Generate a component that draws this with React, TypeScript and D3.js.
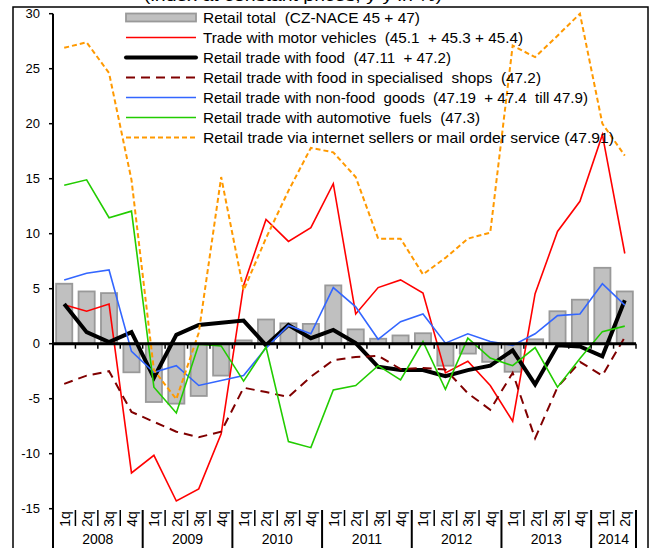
import React from "react";
import * as d3 from "d3";

const years = ["2008", "2009", "2010", "2011", "2012", "2013", "2014"];
const quarters = ["1q","2q","3q","4q","1q","2q","3q","4q","1q","2q","3q","4q","1q","2q","3q","4q","1q","2q","3q","4q","1q","2q","3q","4q","1q","2q"];
const yTicks = [30, 25, 20, 15, 10, 5, 0, -5, -10, -15];

const retailTotal = [5.45, 4.75, 4.6, -2.6, -5.3, -5.45, -4.75, -2.9, 0.3, 2.2, 1.85, 1.8, 5.3, 1.3, 0.45, 0.75, 0.95, -2.0, -0.9, -1.65, -2.55, 0.4, 2.95, 4.0, 6.9, 4.75];
const motorVehicles = [3.55, 2.95, 3.6, -11.75, -10.15, -14.3, -13.2, -8.2, 5.3, 11.3, 9.3, 10.55, 14.55, 2.7, 5.1, 5.8, 4.6, -2.65, -1.6, -3.8, -7.05, 4.55, 10.2, 12.95, 19.0, 8.2];
const food = [3.6, 1.05, 0.15, 1.05, -3.1, 0.8, 1.7, 1.9, 2.1, -0.15, 1.7, 0.5, 1.25, 0.05, -2.1, -2.4, -2.4, -2.95, -2.4, -2.0, -0.6, -3.7, -0.15, -0.25, -1.15, 3.95];
const foodSpecialised = [-3.65, -2.9, -2.5, -6.2, -7.1, -8.0, -8.5, -8.0, -4.0, -4.4, -4.85, -3.0, -1.5, -1.2, -1.1, -2.3, -2.2, -2.35, -4.5, -6.0, -2.65, -8.6, -3.95, -1.65, -2.9, 0.6];
const nonFood = [5.8, 6.4, 6.7, -0.7, -2.6, -2.0, -3.8, -3.35, -2.9, -0.4, 1.65, 0.9, 5.1, 3.35, 0.4, 2.0, 2.7, 0.05, 0.9, 0.2, -0.15, 0.9, 2.55, 2.7, 5.45, 3.5];
const fuels = [14.4, 14.9, 11.45, 12.05, -3.95, -6.3, -0.05, -0.2, -3.4, -0.3, -8.9, -9.45, -4.2, -3.8, -2.0, -3.3, 0.2, -4.15, 0.5, -1.3, -2.0, -0.35, -3.95, -1.35, 1.1, 1.6];
const internet = [26.9, 27.4, 24.6, 14.9, -2.4, -5.05, 1.0, 15.15, 4.85, 9.6, 13.9, 17.8, 17.4, 15.15, 9.55, 9.55, 6.3, 7.8, 9.55, 10.1, 27.1, 26.05, 28.0, 30.0, 20.0, 17.1];

const lineSeries = [
  { name: "Trade with motor vehicles  (45.1  + 45.3 + 45.4)", values: motorVehicles, color: "#FF0000", width: 1.6, dash: "" },
  { name: "Retail trade with food  (47.11  + 47.2)", values: food, color: "#000000", width: 4, dash: "" },
  { name: "Retail trade with food in specialised  shops  (47.2)", values: foodSpecialised, color: "#800000", width: 2, dash: "9,6" },
  { name: "Retail trade with non-food  goods  (47.19  + 47.4  till 47.9)", values: nonFood, color: "#3366FF", width: 1.6, dash: "" },
  { name: "Retail trade with automotive  fuels  (47.3)", values: fuels, color: "#22CC00", width: 1.6, dash: "" },
  { name: "Retail trade via internet sellers or mail order service (47.91)", values: internet, color: "#FF9900", width: 2, dash: "5,3" },
];
const barName = "Retail total  (CZ-NACE 45 + 47)";

export default function App() {
  const W = 653, H = 548;
  const x0 = 53, x1 = 636;
  const x = d3.scaleBand<number>().domain(d3.range(quarters.length)).range([x0, x1]).padding(0);
  const bw = x.bandwidth();
  const y = d3.scaleLinear().domain([-15, 30]).range([508.7, 13.7]);
  const cx = (i: number) => (x(i) as number) + bw / 2;
  const line = d3.line<number>().x((_, i) => cx(i)).y((v) => y(v));
  const font = "'Liberation Sans', Arial, sans-serif";
  const barW = bw * 0.72;
  const boundaries = d3.range(quarters.length + 1);
  const legendRows = [{ name: barName, bar: true }, ...lineSeries.map((s) => ({ name: s.name, bar: false, s }))];
  const legendTextWidths = [217, 320, 248, 338, 385, 277, 411];

  return (
    <svg width={W} height={H} style={{ position: "absolute", left: 0, top: 0, background: "#fff" }} fontFamily={font}>
      <rect x={0} y={0} width={W} height={H} fill="#fff" />
      <text x={144} y={0.5} fontSize={15} textLength={298} lengthAdjust="spacingAndGlyphs" fill="#000">(index at constant prices, y-y in %)</text>
      <rect x={13} y={7} width={635} height={560} fill="none" stroke="#000" strokeWidth={1.5} />
      {/* bars */}
      {retailTotal.map((v, i) => (
        <rect key={i} x={cx(i) - barW / 2} y={Math.min(y(v), y(0))} width={barW} height={Math.abs(y(v) - y(0))}
          fill="#C0C0C0" stroke="#999999" strokeWidth={1.8} />
      ))}
      {/* y axis */}
      <line x1={x0} x2={x0} y1={y(30)} y2={H} stroke="#000" strokeWidth={2} />
      {yTicks.map((t) => (
        <g key={t}>
          <line x1={x0 - 4} x2={x0} y1={y(t)} y2={y(t)} stroke="#000" strokeWidth={1.5} />
          <text x={40} y={y(t)} dy="0.35em" textAnchor="end" fontSize={13}>{t}</text>
        </g>
      ))}
      {/* lines */}
      {lineSeries.map((s) => (
        <path key={s.name} d={line(s.values) || ""} fill="none" stroke={s.color} strokeWidth={s.width}
          strokeDasharray={s.dash || undefined} strokeLinejoin="miter" />
      ))}
      {/* zero axis */}
      <line x1={x0} x2={x1} y1={y(0)} y2={y(0)} stroke="#000" strokeWidth={3} />
      {boundaries.map((k) => {
        const bx = k < quarters.length ? (x(k) as number) : x1;
        return <line key={"zt" + k} x1={bx} x2={bx} y1={y(0)} y2={y(0) + 5} stroke="#000" strokeWidth={1.5} />;
      })}
      {/* category labels */}
      {boundaries.map((k) => {
        const bx = k < quarters.length ? (x(k) as number) : x1;
        const isYear = k % 4 === 0 || k === quarters.length;
        return <line key={"sep" + k} x1={bx} x2={bx} y1={510} y2={isYear ? H : 526} stroke="#000" strokeWidth={isYear ? 2 : 1.5} />;
      })}
      {quarters.map((q, i) => (
        <text key={"q" + i} transform={`translate(${cx(i) + 0.5},519) rotate(-90)`} textAnchor="middle" dy="0.35em" fontSize={14}>{q}</text>
      ))}
      {years.map((yr, j) => {
        const start = x(j * 4) as number;
        const endIdx = Math.min(j * 4 + 4, quarters.length);
        const end = endIdx < quarters.length ? (x(endIdx) as number) : x1;
        return <text key={yr} x={(start + end) / 2} y={544} textAnchor="middle" fontSize={14}>{yr}</text>;
      })}
      {/* legend */}
      <g>
        {legendRows.map((r, i) => {
          const ly = 17.5 + 20 * i;
          const s: any = (r as any).s;
          return (
            <g key={"lg" + i}>
              {r.bar ? (
                <rect x={126} y={ly - 4} width={70} height={8} fill="#C0C0C0" stroke="#999999" strokeWidth={1.8} />
              ) : (
                <line x1={126} x2={196} y1={ly} y2={ly} stroke={s.color} strokeWidth={s.width} strokeDasharray={s.dash || undefined} strokeLinecap={s.width > 3 ? "round" : "butt"} />
              )}
              <text x={203} y={ly} dy="0.36em" fontSize={14.5} textLength={legendTextWidths[i]} lengthAdjust="spacingAndGlyphs" style={{ whiteSpace: "pre" }}>{r.name}</text>
            </g>
          );
        })}
      </g>
    </svg>
  );
}
